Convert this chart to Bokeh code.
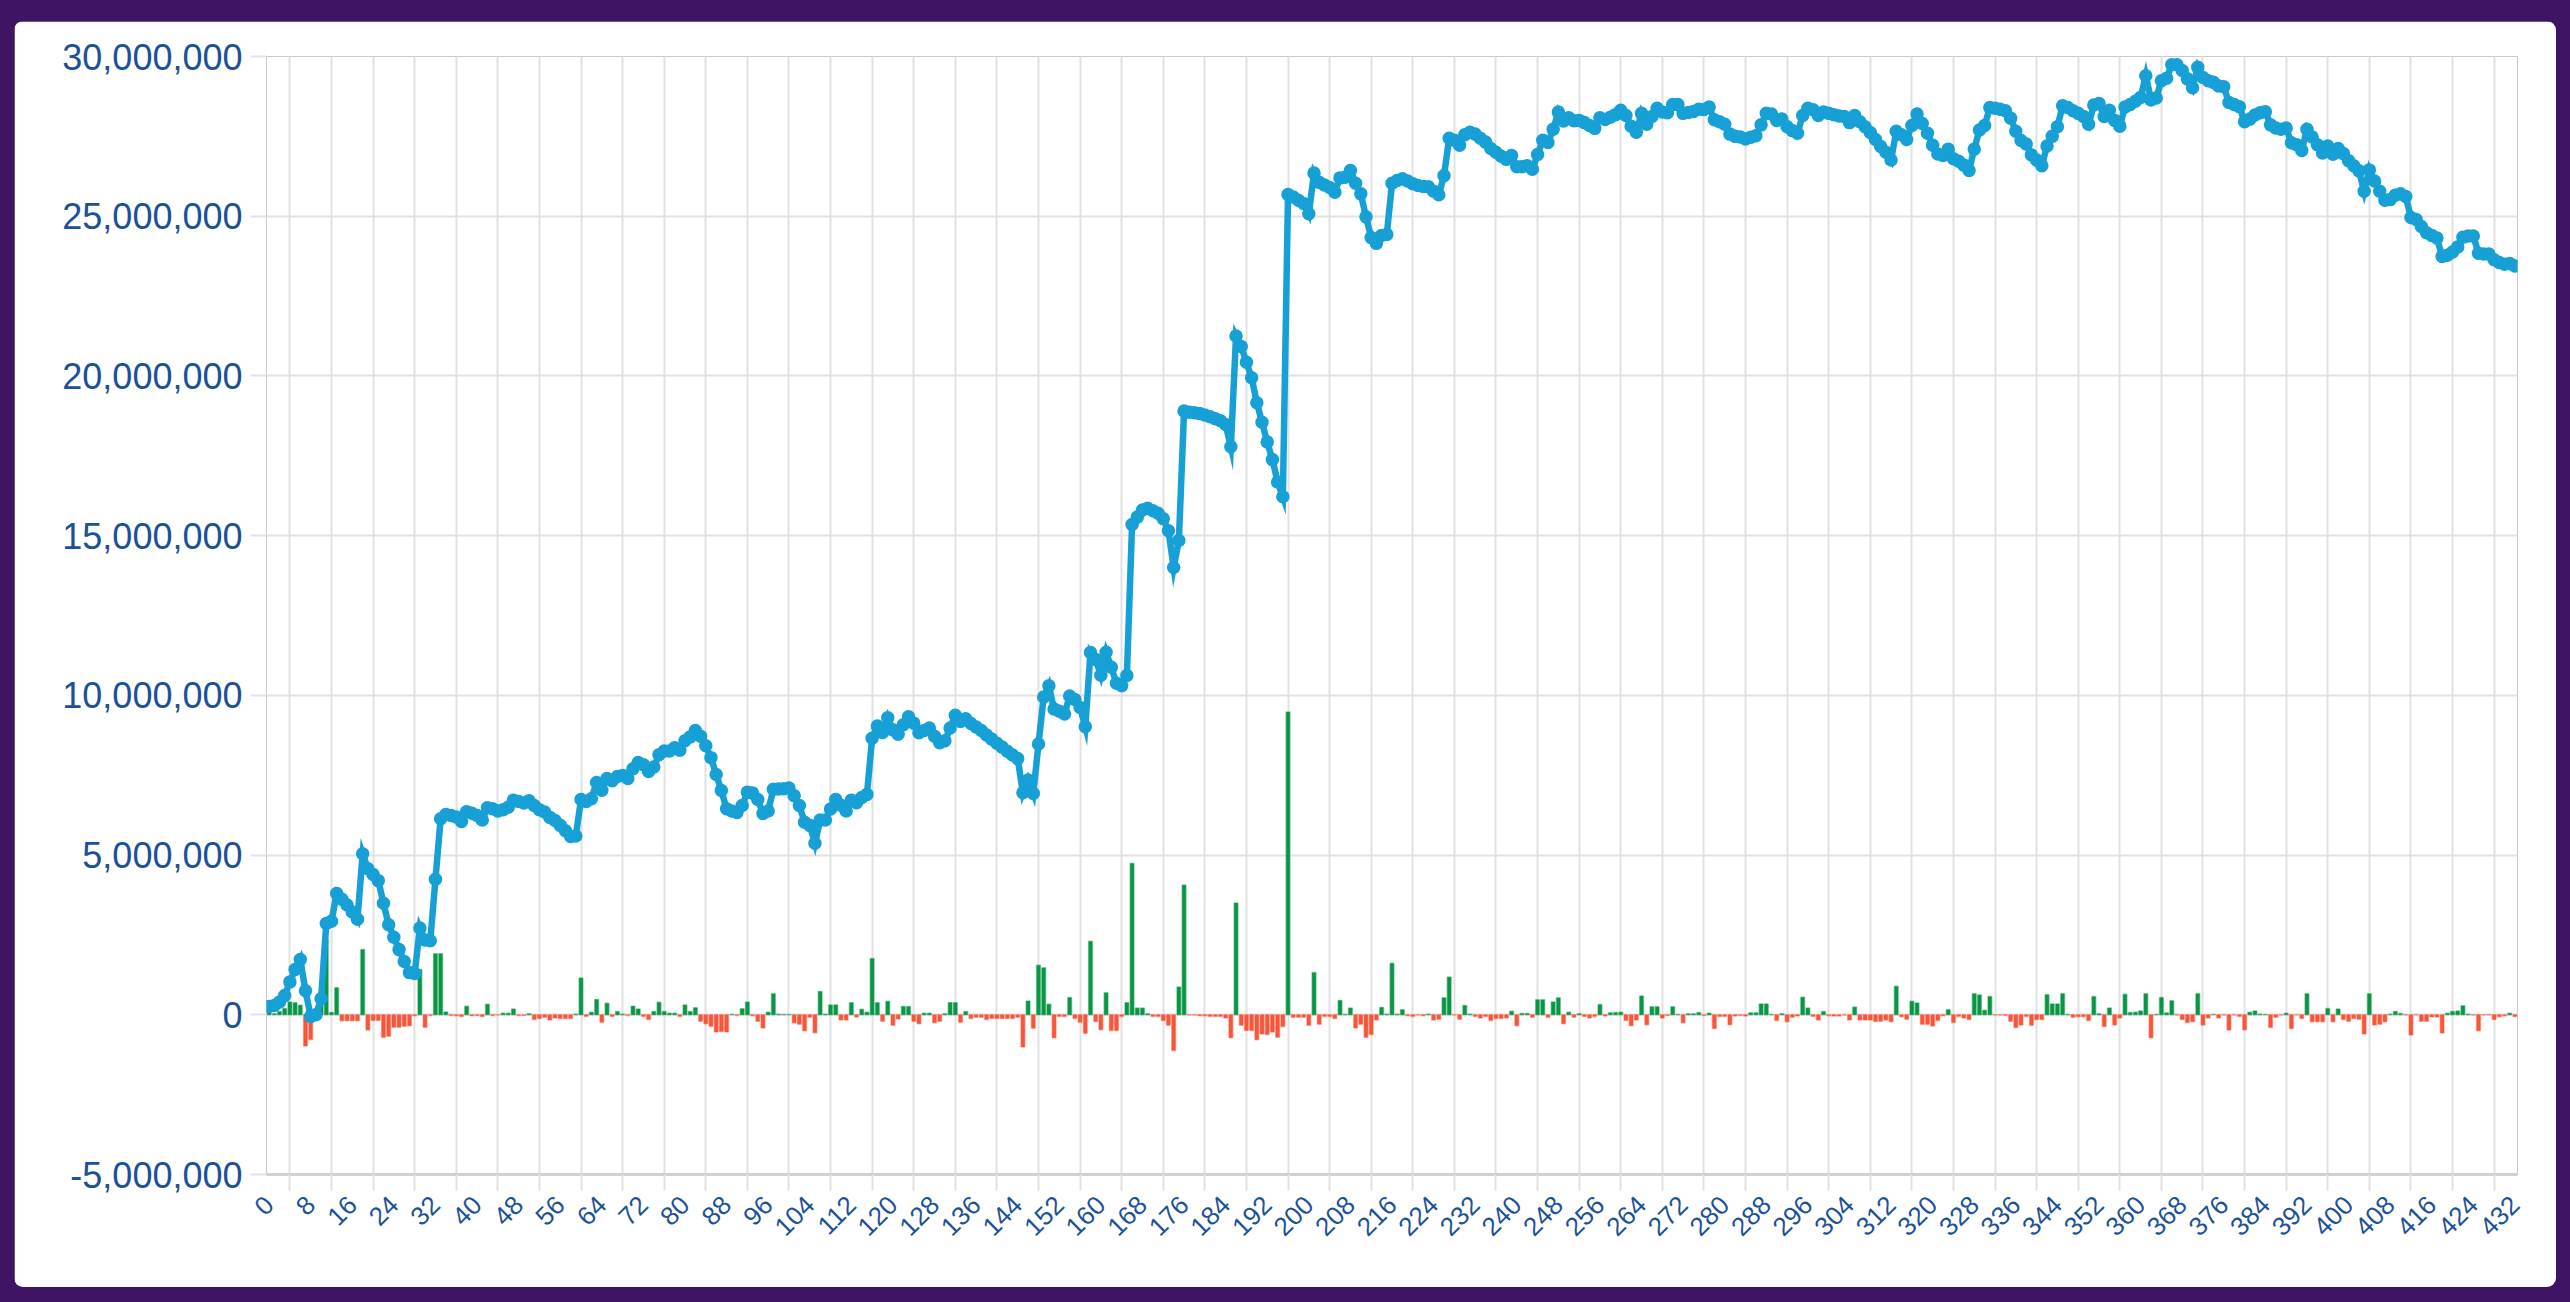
import math
from bokeh.plotting import figure
from bokeh.models import Range1d, FixedTicker, NumeralTickFormatter, ColumnDataSource
from bokeh.embed import file_html
from bokeh.resources import INLINE

# ---------------- data (values in millions) ----------------
equity_m = [
    0.26, 0.29, 0.40, 0.60, 1.03, 1.42, 1.73, 0.75, -0.05, 0.00,
    0.50, 2.86, 2.93, 3.80, 3.62, 3.44, 3.22, 2.99, 5.04, 4.57,
    4.39, 4.20, 3.49, 2.82, 2.43, 2.04, 1.67, 1.32, 1.29, 2.72,
    2.34, 2.32, 4.24, 6.14, 6.27, 6.24, 6.19, 6.05, 6.36, 6.31,
    6.24, 6.10, 6.48, 6.45, 6.38, 6.42, 6.50, 6.72, 6.68, 6.63,
    6.70, 6.55, 6.42, 6.35, 6.18, 6.08, 5.93, 5.76, 5.58, 5.60,
    6.74, 6.68, 6.76, 7.27, 7.03, 7.40, 7.33, 7.46, 7.49, 7.40,
    7.70, 7.90, 7.83, 7.62, 7.76, 8.14, 8.26, 8.26, 8.36, 8.28,
    8.58, 8.70, 8.90, 8.72, 8.42, 8.05, 7.52, 7.02, 6.45, 6.38,
    6.33, 6.55, 6.97, 6.94, 6.74, 6.30, 6.38, 7.06, 7.07, 7.08,
    7.10, 6.86, 6.55, 6.03, 5.93, 5.37, 6.10, 6.10, 6.44, 6.74,
    6.56, 6.38, 6.72, 6.64, 6.80, 6.90, 8.66, 9.04, 8.84, 9.30,
    8.92, 8.78, 9.08, 9.33, 9.13, 8.83, 8.90, 8.98, 8.72, 8.52,
    8.58, 8.98, 9.38, 9.18, 9.27, 9.12, 9.01, 8.90, 8.76, 8.63,
    8.50, 8.38, 8.25, 8.13, 8.02, 6.95, 7.35, 6.93, 8.48, 9.95,
    10.30, 9.57, 9.50, 9.42, 9.98, 9.87, 9.62, 9.02, 11.34, 11.12,
    10.63, 11.35, 10.88, 10.38, 10.30, 10.62, 15.35, 15.58, 15.80, 15.86,
    15.78, 15.70, 15.53, 15.15, 14.00, 14.85, 18.90, 18.86, 18.85, 18.82,
    18.78, 18.72, 18.66, 18.60, 18.48, 17.78, 21.25, 20.92, 20.43, 19.94,
    19.16, 18.55, 17.93, 17.38, 16.68, 16.22, 25.68, 25.60, 25.50, 25.40,
    25.08, 26.35, 26.06, 25.98, 25.90, 25.75, 26.20, 26.22, 26.43, 26.03,
    25.70, 24.98, 24.33, 24.15, 24.40, 24.43, 26.03, 26.12, 26.17, 26.10,
    26.02, 25.96, 25.93, 25.92, 25.78, 25.67, 26.27, 27.44, 27.38, 27.22,
    27.55, 27.63, 27.57, 27.44, 27.32, 27.12, 27.00, 26.88, 26.78, 26.90,
    26.55, 26.55, 26.58, 26.47, 26.93, 27.38, 27.31, 27.72, 28.26, 27.98,
    28.08, 27.99, 28.00, 27.93, 27.84, 27.75, 28.08, 28.03, 28.10, 28.18,
    28.32, 28.15, 27.82, 27.63, 28.22, 27.88, 28.12, 28.38, 28.26, 28.24,
    28.50, 28.50, 28.22, 28.25, 28.28, 28.35, 28.34, 28.42, 28.02, 27.96,
    27.88, 27.57, 27.50, 27.48, 27.42, 27.47, 27.52, 27.86, 28.22, 28.20,
    28.00, 28.04, 27.80, 27.68, 27.60, 28.15, 28.38, 28.33, 28.15, 28.26,
    28.22, 28.18, 28.14, 28.12, 27.93, 28.15, 27.96, 27.80, 27.62, 27.40,
    27.18, 27.00, 26.76, 27.66, 27.55, 27.40, 27.84, 28.20, 27.90, 27.60,
    27.22, 26.95, 26.90, 27.10, 26.80, 26.72, 26.60, 26.43, 27.10, 27.70,
    27.84, 28.40, 28.38, 28.35, 28.30, 28.07, 27.66, 27.37, 27.26, 26.92,
    26.76, 26.58, 27.20, 27.50, 27.80, 28.46, 28.40, 28.30, 28.22, 28.12,
    27.88, 28.48, 28.53, 28.12, 28.32, 28.00, 27.82, 28.42, 28.50, 28.60,
    28.72, 29.40, 28.64, 28.70, 29.24, 29.32, 29.74, 29.74, 29.56, 29.30,
    29.02, 29.66, 29.34, 29.24, 29.19, 29.08, 29.05, 28.56, 28.50, 28.43,
    27.96, 28.04, 28.17, 28.24, 28.27, 27.86, 27.76, 27.72, 27.76, 27.30,
    27.24, 27.06, 27.72, 27.48, 27.24, 26.98, 27.20, 26.94, 27.12, 26.96,
    26.74, 26.58, 26.42, 25.78, 26.45, 26.10, 25.78, 25.50, 25.52, 25.66,
    25.70, 25.62, 24.96, 24.90, 24.68, 24.48, 24.40, 24.32, 23.74, 23.78,
    23.88, 24.04, 24.34, 24.38, 24.38, 23.84, 23.82, 23.82, 23.64, 23.55,
    23.50, 23.52, 23.44,
]

change_m = [
    0.26, 0.03, 0.10, 0.20, 0.40, 0.38, 0.30, -0.98, -0.77, 0.05,
    0.50, 2.36, 0.07, 0.85, -0.19, -0.19, -0.19, -0.19, 2.04, -0.48,
    -0.18, -0.18, -0.70, -0.67, -0.39, -0.39, -0.36, -0.34, -0.03, 1.42,
    -0.39, -0.02, 1.91, 1.91, 0.09, -0.02, -0.03, -0.05, 0.27, -0.03,
    -0.02, -0.05, 0.33, -0.02, -0.01, 0.05, 0.05, 0.18, -0.02, -0.02,
    0.03, -0.15, -0.12, -0.08, -0.16, -0.10, -0.12, -0.12, -0.12, 0.02,
    1.15, -0.05, 0.08, 0.48, -0.23, 0.36, -0.05, 0.10, 0.02, -0.02,
    0.27, 0.18, -0.05, -0.15, 0.10, 0.39, 0.10, 0.05, 0.05, -0.05,
    0.31, 0.10, 0.22, -0.20, -0.28, -0.36, -0.54, -0.52, -0.54, 0.01,
    -0.02, 0.19, 0.40, -0.03, -0.20, -0.41, 0.08, 0.66, 0.02, 0.01,
    0.01, -0.25, -0.30, -0.50, -0.08, -0.56, 0.73, 0.02, 0.31, 0.31,
    -0.16, -0.16, 0.38, -0.07, 0.17, 0.08, 1.76, 0.38, -0.20, 0.42,
    -0.33, -0.13, 0.26, 0.26, -0.20, -0.28, 0.05, 0.05, -0.25, -0.20,
    0.03, 0.38, 0.38, -0.23, 0.10, -0.12, -0.08, -0.08, -0.15, -0.12,
    -0.12, -0.12, -0.12, -0.12, -0.08, -1.01, 0.43, -0.42, 1.55, 1.47,
    0.33, -0.72, -0.05, -0.05, 0.54, -0.12, -0.23, -0.58, 2.30, -0.21,
    -0.47, 0.69, -0.49, -0.49, -0.05, 0.38, 4.74, 0.21, 0.21, 0.03,
    -0.05, -0.05, -0.18, -0.33, -1.12, 0.87, 4.06, -0.01, -0.01, -0.03,
    -0.03, -0.05, -0.05, -0.05, -0.10, -0.72, 3.50, -0.33, -0.49, -0.49,
    -0.78, -0.60, -0.62, -0.54, -0.70, -0.37, 9.48, -0.08, -0.08, -0.08,
    -0.33, 1.32, -0.30, -0.05, -0.05, -0.12, 0.45, 0.01, 0.21, -0.41,
    -0.30, -0.70, -0.62, -0.16, 0.23, 0.02, 1.61, 0.02, 0.16, -0.03,
    -0.05, -0.01, -0.03, 0.02, -0.16, -0.14, 0.53, 1.18, -0.01, -0.14,
    0.29, 0.02, -0.05, -0.10, -0.05, -0.18, -0.12, -0.12, -0.10, 0.11,
    -0.34, 0.04, 0.04, -0.08, 0.47, 0.47, -0.08, 0.40, 0.53, -0.28,
    0.08, -0.08, 0.03, -0.05, -0.10, -0.05, 0.32, -0.04, 0.06, 0.07,
    0.08, -0.18, -0.34, -0.16, 0.59, -0.31, 0.25, 0.25, -0.10, -0.02,
    0.25, 0.01, -0.25, 0.03, 0.03, 0.07, -0.02, 0.05, -0.43, -0.05,
    -0.05, -0.31, -0.04, -0.02, -0.04, 0.06, 0.06, 0.34, 0.34, 0.01,
    -0.18, 0.03, -0.22, -0.08, -0.04, 0.55, 0.21, -0.05, -0.16, 0.10,
    -0.03, -0.04, -0.04, -0.01, -0.16, 0.24, -0.16, -0.16, -0.16, -0.21,
    -0.20, -0.16, -0.22, 0.89, -0.06, -0.14, 0.42, 0.37, -0.30, -0.30,
    -0.35, -0.18, -0.03, 0.16, -0.24, -0.05, -0.10, -0.15, 0.66, 0.62,
    0.14, 0.57, -0.01, -0.01, -0.02, -0.20, -0.40, -0.32, -0.05, -0.33,
    -0.15, -0.15, 0.63, 0.34, 0.34, 0.66, 0.01, -0.08, -0.06, -0.06,
    -0.18, 0.57, 0.03, -0.37, 0.21, -0.32, -0.10, 0.64, 0.07, 0.08,
    0.12, 0.66, -0.72, 0.01, 0.54, 0.06, 0.44, -0.01, -0.15, -0.24,
    -0.22, 0.66, -0.32, -0.10, 0.01, -0.10, -0.01, -0.48, -0.01, -0.05,
    -0.47, 0.08, 0.12, 0.02, 0.01, -0.40, -0.08, -0.01, 0.05, -0.43,
    -0.01, -0.12, 0.66, -0.22, -0.22, -0.22, 0.20, -0.22, 0.18, -0.15,
    -0.20, -0.12, -0.14, -0.60, 0.66, -0.32, -0.30, -0.22, 0.02, 0.10,
    0.04, -0.01, -0.63, -0.01, -0.20, -0.20, -0.07, -0.07, -0.57, 0.05,
    0.10, 0.12, 0.28, 0.02, -0.01, -0.50, -0.01, -0.01, -0.15, -0.06,
    -0.03, 0.05, -0.05,
]

categories = list(range(len(equity_m)))             # 0 .. 432
x_label_ticks = list(range(0, len(categories), 8))  # 0, 8, ..., 432
y_ticks = [-5_000_000, 0, 5_000_000, 10_000_000, 15_000_000,
           20_000_000, 25_000_000, 30_000_000]

# ---------------- styles ----------------
LINE_BLUE = "#17a0d5"
GREEN = "#0a9745"
RED = "#f8553a"
LABEL_BLUE = "#1b5196"
GRID = "#e1e1e1"
PURPLE = "#401464"

equity = [v * 1_000_000 for v in equity_m]
change = [v * 1_000_000 for v in change_m]
bar_fill = [GREEN if v >= 0 else RED for v in change]

bars = ColumnDataSource(dict(x=categories, top=change, fill=bar_fill))
line_src = ColumnDataSource(dict(x=categories, y=equity))

n = len(categories)
p = figure(
    width=2542, height=1266,
    x_range=Range1d(-0.5, n - 0.5),
    y_range=Range1d(-5_000_000, 30_000_000),
    output_backend="svg", toolbar_location=None,
    min_border_left=252, min_border_right=39,
    min_border_top=35, min_border_bottom=113,
)
p.styles = {"border-radius": "9px", "overflow": "hidden"}
p.border_fill_color = "white"
p.background_fill_color = "white"
p.outline_line_color = None

# bars (daily change)
p.vbar(x="x", top="top", bottom=0, width=0.72, source=bars,
       fill_color="fill", line_color="fill", line_alpha=0.45, line_width=1.5)

# cumulative line with markers
p.line(x="x", y="y", source=line_src, line_width=6.5, line_color=LINE_BLUE,
       line_join="miter")
p.scatter(x="x", y="y", source=line_src, size=12, fill_color=LINE_BLUE,
          line_color=LINE_BLUE, line_width=1.5)

# ---------------- axes & grid ----------------
grid_x = [-0.5] + [t + 4 for t in x_label_ticks if t + 4 < n]

xa = p.xaxis[0]
xa.ticker = FixedTicker(ticks=x_label_ticks, minor_ticks=grid_x[1:])
xa.major_tick_line_color = None
xa.major_tick_out = 16
xa.major_tick_in = 0
xa.minor_tick_out = 16
xa.minor_tick_in = 0
xa.minor_tick_line_color = GRID
xa.minor_tick_line_width = 2
xa.axis_line_color = "#d0d0d0"
xa.axis_line_width = 3
xa.major_label_orientation = math.pi / 4
xa.major_label_text_font = "Liberation Sans"
xa.major_label_text_font_size = "26px"
xa.major_label_text_color = LABEL_BLUE
xa.major_label_standoff = 10

ya = p.yaxis[0]
ya.ticker = FixedTicker(ticks=y_ticks)
ya.formatter = NumeralTickFormatter(format="0,0")
ya.minor_tick_line_color = None
ya.major_tick_out = 16
ya.major_tick_in = 0
ya.major_tick_line_color = GRID
ya.major_tick_line_width = 2
ya.axis_line_color = None
ya.major_label_text_font = "Liberation Sans"
ya.major_label_text_font_size = "36px"
ya.major_label_text_color = LABEL_BLUE
ya.major_label_standoff = 8

p.xgrid.ticker = FixedTicker(ticks=grid_x)
p.xgrid.grid_line_color = GRID
p.xgrid.grid_line_width = 2
p.ygrid.ticker = FixedTicker(ticks=y_ticks)
p.ygrid.grid_line_color = GRID
p.ygrid.grid_line_width = 2

html = file_html(p, INLINE)
# style the page body (the <body ...> tag after the inline scripts in <head>)
head_end = html.find("</head>")
b = html.find("<body", head_end if head_end >= 0 else 0)
e = html.find(">", b)
html = (html[:b]
        + '<body style="background-color:%s;margin:0;padding:21px 0 0 14px;">' % PURPLE
        + html[e + 1:])
open("out.html", "w").write(html)
